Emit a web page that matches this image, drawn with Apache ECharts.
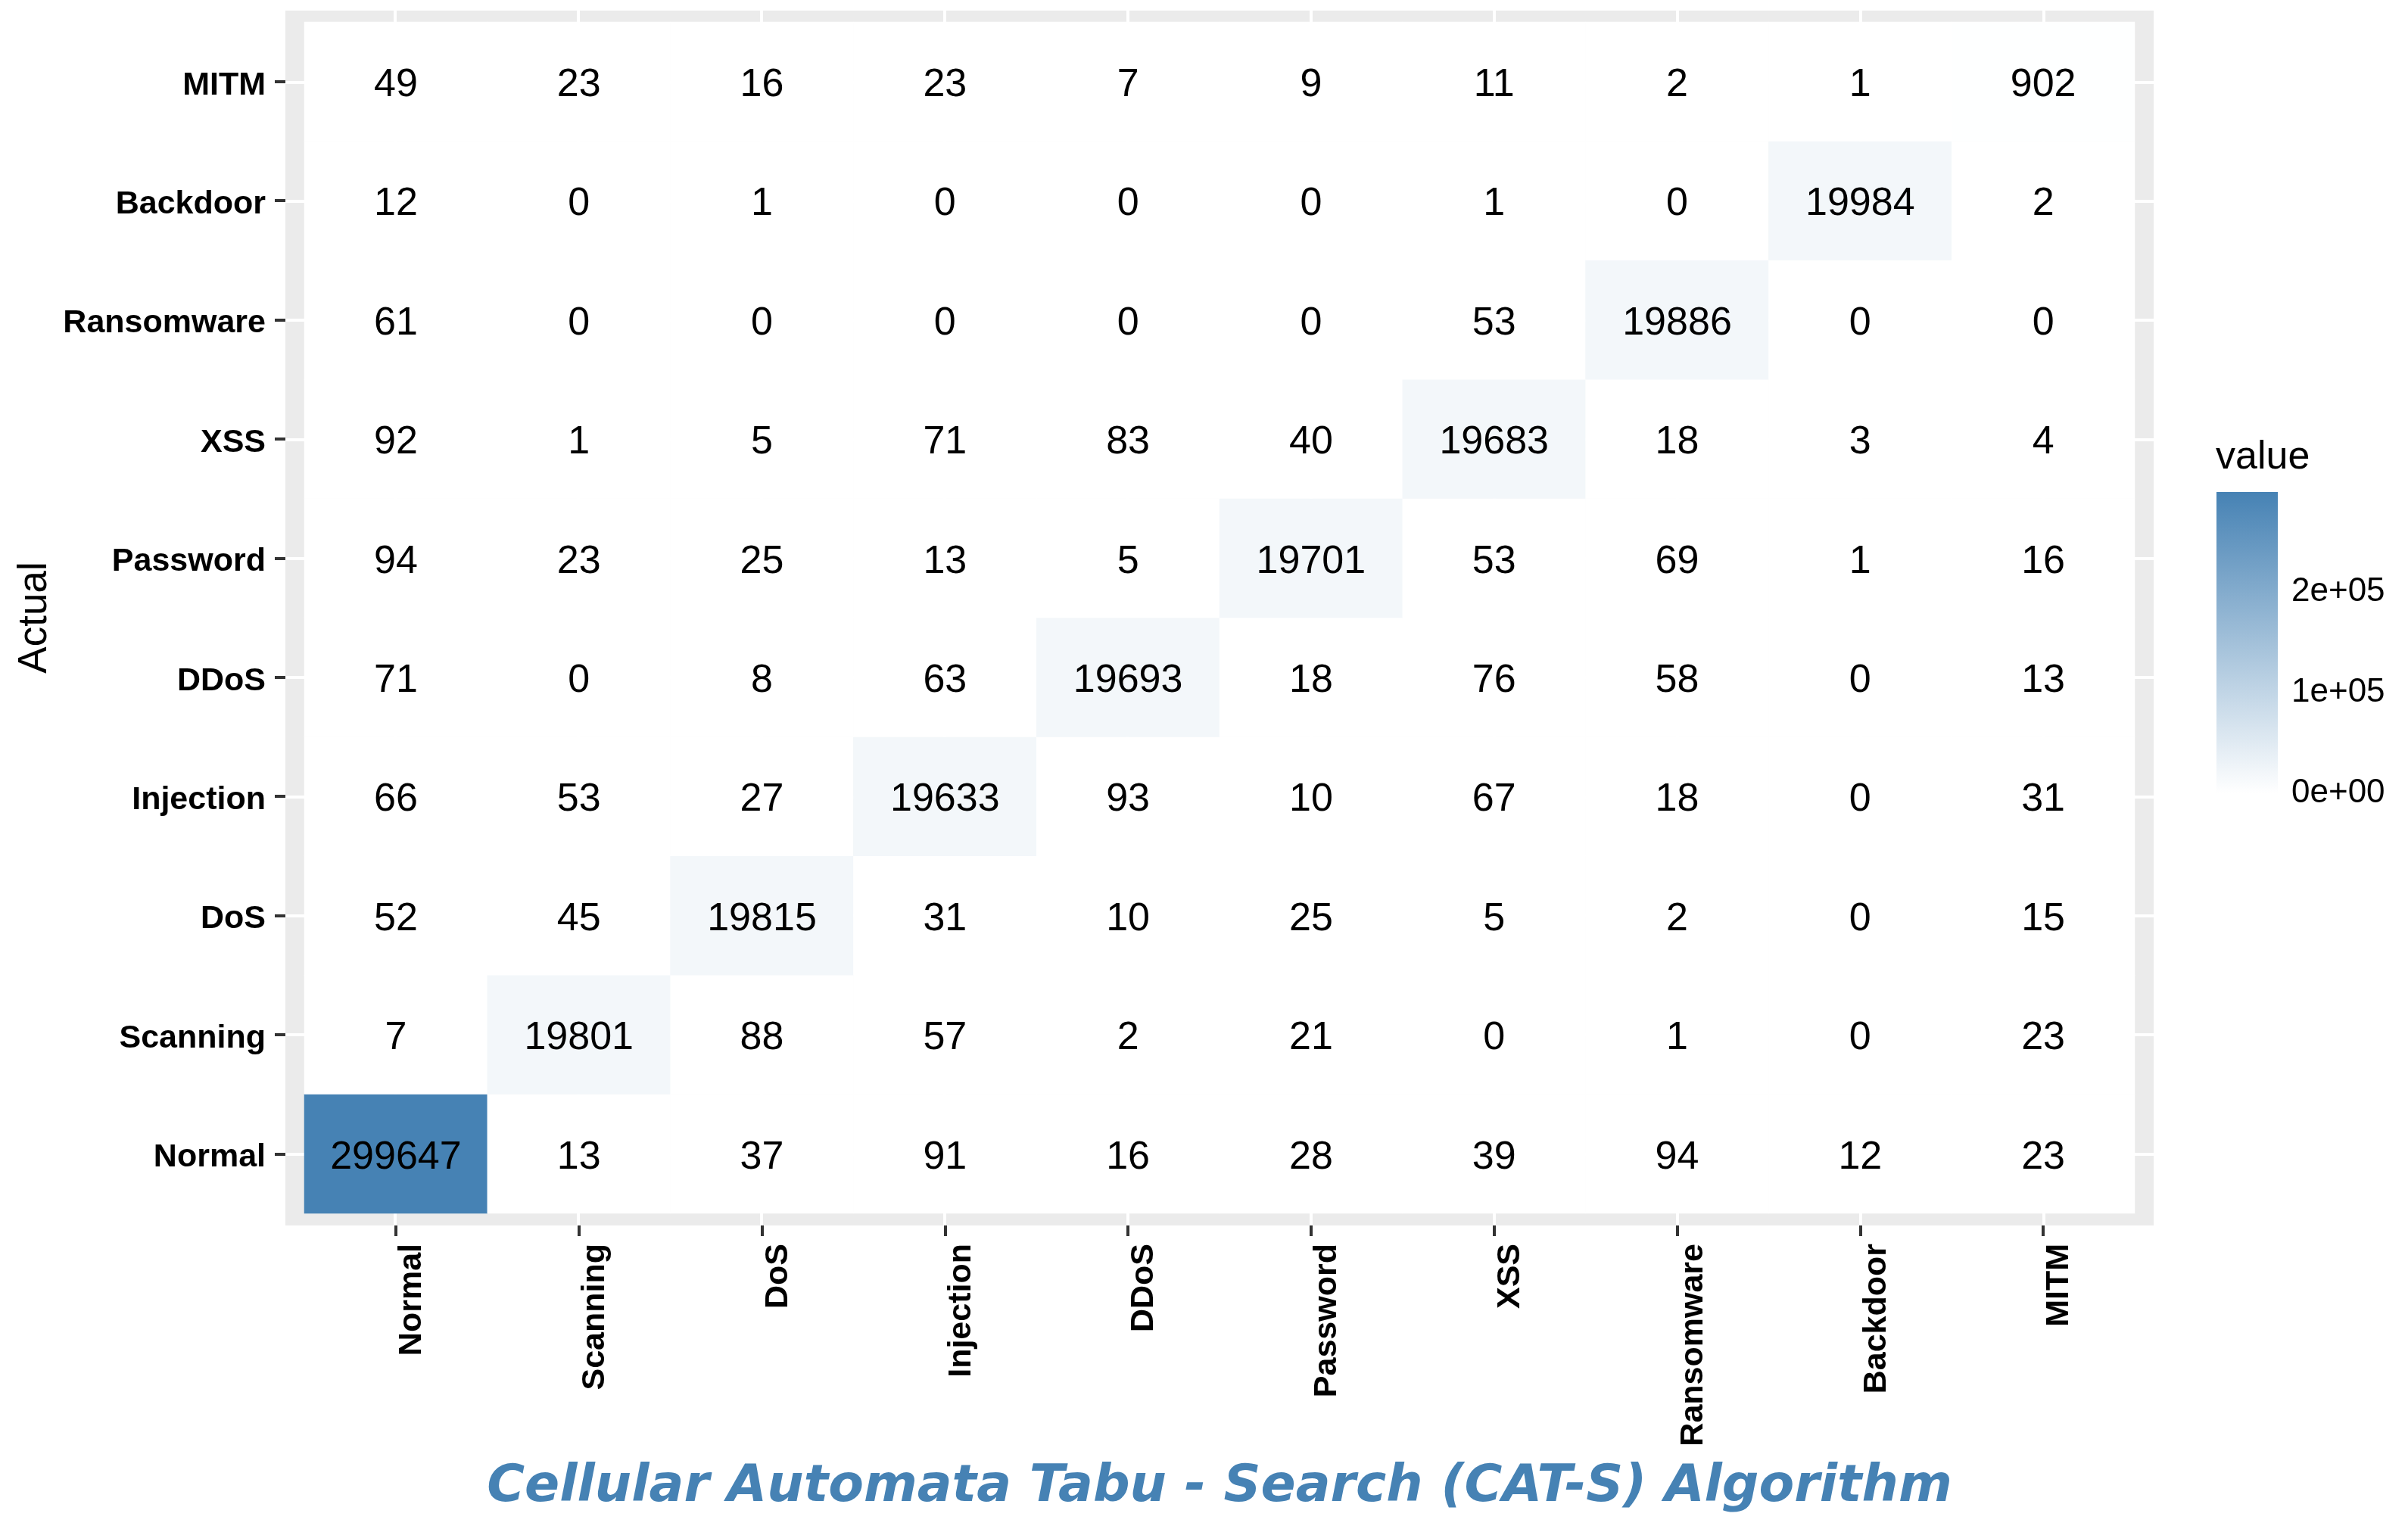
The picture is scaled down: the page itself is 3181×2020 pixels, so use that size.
<!DOCTYPE html>
<html>
<head>
<meta charset="utf-8">
<script src="https://cdn.jsdelivr.net/npm/echarts@6/dist/echarts.min.js"></script>
<style>
html,body{margin:0;padding:0;background:#fff;}
#chart{width:3181px;height:2020px;}
</style>
</head>
<body>
<div id="chart"></div>
<script>
// Categories (Predicted on x, Actual on y; y listed bottom -> top)
const categories = ['Normal','Scanning','DoS','Injection','DDoS','Password','XSS','Ransomware','Backdoor','MITM'];

// Actual rows: counts per predicted class (Normal ... MITM)
const actualNormal     = [299647, 13, 37, 91, 16, 28, 39, 94, 12, 23];
const actualScanning   = [7, 19801, 88, 57, 2, 21, 0, 1, 0, 23];
const actualDoS        = [52, 45, 19815, 31, 10, 25, 5, 2, 0, 15];
const actualInjection  = [66, 53, 27, 19633, 93, 10, 67, 18, 0, 31];
const actualDDoS       = [71, 0, 8, 63, 19693, 18, 76, 58, 0, 13];
const actualPassword   = [94, 23, 25, 13, 5, 19701, 53, 69, 1, 16];
const actualXSS        = [92, 1, 5, 71, 83, 40, 19683, 18, 3, 4];
const actualRansomware = [61, 0, 0, 0, 0, 0, 53, 19886, 0, 0];
const actualBackdoor   = [12, 0, 1, 0, 0, 0, 1, 0, 19984, 2];
const actualMITM       = [49, 23, 16, 23, 7, 9, 11, 2, 1, 902];

// Legend tick values
const legendTicks = [0, 100000, 200000];

const rows = [actualNormal, actualScanning, actualDoS, actualInjection, actualDDoS,
              actualPassword, actualXSS, actualRansomware, actualBackdoor, actualMITM];
const heatData = [];
let maxVal = 0;
rows.forEach(function(r, y){ r.forEach(function(v, x){ heatData.push([x, y, v]); if (v > maxVal) maxVal = v; }); });

function sci(v){
  if (v === 0) return '0e+00';
  const e = Math.floor(Math.log10(v));
  const m = Math.round(v / Math.pow(10, e));
  return m + 'e+' + String(e).padStart(2, '0');
}

const FONT = 'Liberation Sans';
const STEEL = '#4682B4';

const chart = echarts.init(document.getElementById('chart'), null, {renderer: 'canvas'});
chart.setOption({
  animation: false,
  backgroundColor: '#FFFFFF',
  textStyle: {fontFamily: FONT},
  title: [{
    text: 'value', left: 2922, top: 574,
    textStyle: {fontFamily: FONT, fontSize: 52, fontWeight: 'normal', color: '#000'}
  }],
  grid: [
    {left: 377, right: 336, top: 14, bottom: 401, show: true, backgroundColor: '#EBEBEB', borderWidth: 0},
    {left: 402, right: 361, top: 29, bottom: 417},
    {left: 2928, right: 172, top: 650, bottom: 972}
  ],
  xAxis: [
    {gridIndex: 0, type: 'value', min: -0.6, max: 9.6, splitNumber: 10,
     axisLine: {show: false}, axisTick: {show: false}, axisLabel: {show: false},
     splitLine: {show: true, showMinLine: false, showMaxLine: false, lineStyle: {color: '#FFFFFF', width: 4}}},
    {gridIndex: 1, type: 'category', data: categories, position: 'bottom', offset: 16,
     axisLine: {show: false},
     axisTick: {show: true, alignWithLabel: true, length: 14, lineStyle: {color: '#333333', width: 4}},
     axisLabel: {rotate: 90, margin: 24, fontFamily: FONT, fontSize: 43, fontWeight: 'bold', color: '#000',
                 verticalAlign: 'top', lineHeight: 43},
     splitLine: {show: false},
     name: 'Cellular Automata Tabu - Search (CAT-S) Algorithm', nameLocation: 'middle', nameGap: 312,
     nameTextStyle: {fontFamily: 'DejaVu Sans', fontSize: 68, fontWeight: 'bold', fontStyle: 'italic', color: STEEL}},
    {gridIndex: 2, type: 'category', data: ['value'], show: false}
  ],
  yAxis: [
    {gridIndex: 0, type: 'value', min: -0.6, max: 9.6, splitNumber: 10,
     axisLine: {show: false}, axisTick: {show: false}, axisLabel: {show: false},
     splitLine: {show: true, showMinLine: false, showMaxLine: false, lineStyle: {color: '#FFFFFF', width: 4}}},
    {gridIndex: 1, type: 'category', data: categories, position: 'left', offset: 25,
     axisLine: {show: false},
     axisTick: {show: true, alignWithLabel: true, length: 14, lineStyle: {color: '#333333', width: 4}},
     axisLabel: {margin: 26, fontFamily: FONT, fontSize: 43, fontWeight: 'bold', color: '#000',
                 verticalAlign: 'top', lineHeight: 10},
     splitLine: {show: false},
     name: 'Actual', nameLocation: 'middle', nameGap: 300, nameRotate: 90,
     nameTextStyle: {fontFamily: FONT, fontSize: 53, color: '#000'}},
    {gridIndex: 2, type: 'value', min: 0, max: maxVal, position: 'left',
     axisLine: {show: false}, axisLabel: {show: false}, splitLine: {show: false},
     axisTick: {show: true, inside: true, length: 16, customValues: legendTicks, lineStyle: {color: '#FFFFFF', width: 3}}},
    {gridIndex: 2, type: 'value', min: 0, max: maxVal, position: 'right',
     axisLine: {show: false}, splitLine: {show: false},
     axisTick: {show: true, inside: true, length: 16, customValues: legendTicks, lineStyle: {color: '#FFFFFF', width: 3}},
     axisLabel: {show: true, customValues: legendTicks, margin: 18, fontFamily: FONT, fontSize: 44, color: '#000', formatter: function(v){ return sci(v); }}}
  ],
  visualMap: {
    type: 'continuous', show: false, seriesIndex: 0, dimension: 2,
    min: 0, max: maxVal, inRange: {color: ['#FFFFFF', STEEL]}
  },
  series: [
    {type: 'heatmap', xAxisIndex: 1, yAxisIndex: 1, data: heatData,
     label: {show: true, fontFamily: FONT, fontSize: 52, color: '#000', offset: [0, 5],
             formatter: function(p){ return String(p.value[2]); }},
     emphasis: {disabled: true}},
    {type: 'bar', xAxisIndex: 2, yAxisIndex: 2, data: [maxVal], barWidth: '100%', silent: true,
     itemStyle: {color: new echarts.graphic.LinearGradient(0, 0, 0, 1, [{offset: 0, color: STEEL}, {offset: 1, color: '#FFFFFF'}])}}
  ]
});
</script>
</body>
</html>
